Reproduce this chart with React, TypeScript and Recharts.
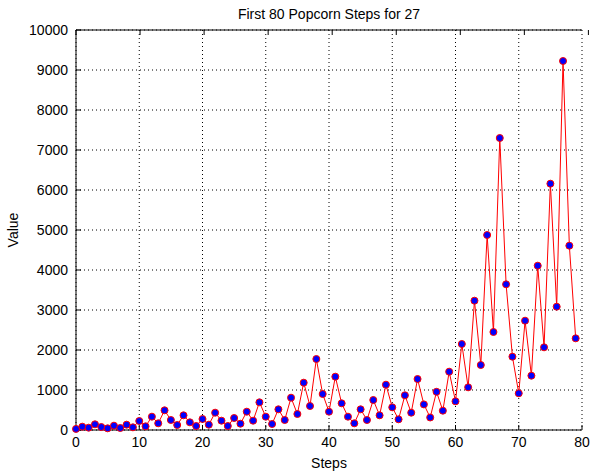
import { LineChart, Line, XAxis, YAxis, CartesianGrid } from 'recharts';

const TITLE = 'First 80 Popcorn Steps for 27';

// value at each step 0..79
const POPCORN_VALUES = [
  27, 83, 58, 142, 75, 42, 108, 50, 133, 67,
  225, 92, 333, 167, 492, 250, 125, 367, 192, 100,
  275, 133, 433, 233, 100, 300, 158, 458, 233, 692,
  333, 150, 517, 250, 808, 400, 1183, 600, 1775, 900,
  458, 1333, 667, 333, 167, 517, 250, 750, 367, 1133,
  567, 267, 867, 433, 1275, 640, 313, 955, 483, 1458,
  717, 2150, 1067, 3233, 1625, 4875, 2450, 7300, 3642, 1833,
  917, 2733, 1358, 4108, 2067, 6158, 3083, 9225, 4608, 2292,
];

const X_TICKS = [0, 10, 20, 30, 40, 50, 60, 70, 80];
const Y_TICKS = [0, 1000, 2000, 3000, 4000, 5000, 6000, 7000, 8000, 9000, 10000];

const FONT = '"Liberation Sans", Arial, sans-serif';
const AXIS_COLOR = '#000';

export default function App() {
  const data = POPCORN_VALUES.map((value, step) => ({ step, value }));
  const tickStyle = { fill: '#000', fontSize: 14, fontFamily: FONT };

  return (
    <div style={{ position: 'absolute', left: 0, top: 0, background: '#fff' }}>
      <LineChart
        width={591}
        height={472}
        data={data}
        margin={{ top: 0, right: 9, bottom: 0, left: 0 }}
        style={{ fontFamily: FONT }}
      >
        <CartesianGrid stroke="#000" strokeDasharray="1 3" />
        <XAxis
          type="number"
          dataKey="step"
          domain={[0, 80]}
          ticks={X_TICKS}
          height={42}
          stroke={AXIS_COLOR}
          tickSize={-5}
          tickMargin={12}
          tick={tickStyle}
          label={{ value: 'Steps', position: 'insideBottom', offset: 4, fill: '#000', fontSize: 14 }}
        />
        <XAxis
          xAxisId="top"
          orientation="top"
          type="number"
          domain={[0, 80]}
          ticks={X_TICKS}
          height={30}
          stroke={AXIS_COLOR}
          tickSize={-5}
          tickFormatter={() => ''}
          label={{ value: TITLE, position: 'insideTop', offset: 9, fill: '#000', fontSize: 14 }}
        />
        <YAxis
          type="number"
          domain={[0, 10000]}
          ticks={Y_TICKS}
          width={76}
          stroke={AXIS_COLOR}
          tickSize={-5}
          tickMargin={13}
          tick={tickStyle}
          label={{
            value: 'Value',
            angle: -90,
            position: 'insideLeft',
            offset: 13,
            fill: '#000',
            fontSize: 14,
            style: { textAnchor: 'middle' },
          }}
        />
        <YAxis
          yAxisId="right"
          orientation="right"
          type="number"
          domain={[0, 10000]}
          ticks={Y_TICKS}
          width={0}
          stroke={AXIS_COLOR}
          tickSize={-5}
          tickFormatter={() => ''}
        />
        <Line
          type="linear"
          dataKey="value"
          stroke="#ff0000"
          strokeWidth={1}
          dot={{ r: 3.5, fill: '#0000ff', stroke: '#ff0000', strokeWidth: 1 }}
          isAnimationActive={false}
        />
      </LineChart>
    </div>
  );
}
